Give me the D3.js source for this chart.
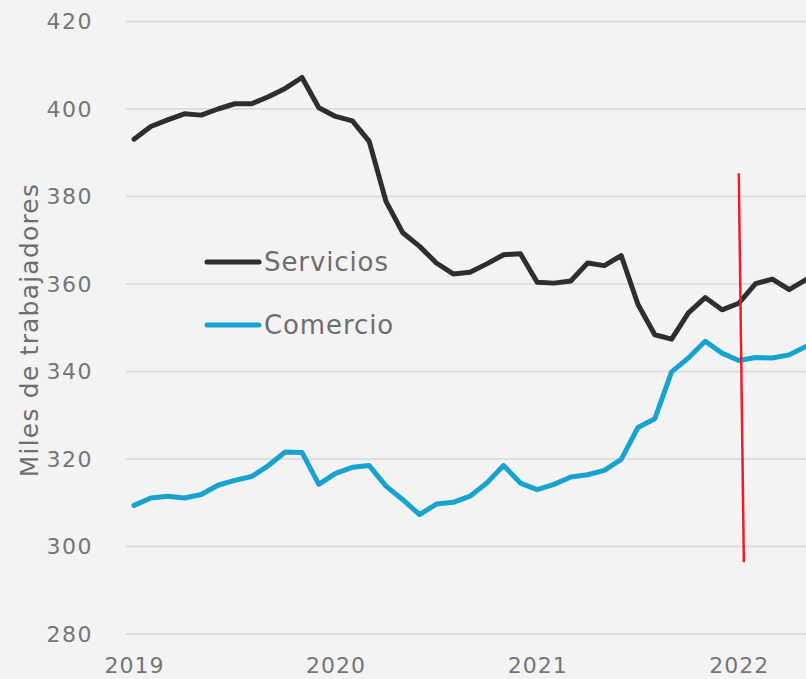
<!DOCTYPE html>
<html>
<head>
<meta charset="utf-8">
<script src="https://cdn.jsdelivr.net/npm/d3@7"></script>
<style>
  html, body { margin: 0; padding: 0; background: #f3f3f3; }
  svg { display: block; }
</style>
</head>
<body>
<div id="chart"></div>
<script>
// datos mensuales, ene 2019 - may 2022
var servicios = [393.1, 396.0, 397.5, 398.9, 398.6, 400.0, 401.2, 401.2, 402.8, 404.7,
    407.2, 400.3, 398.3, 397.3, 392.6, 378.9, 371.7, 368.6, 364.8, 362.3,
    362.7, 364.6, 366.7, 366.9, 360.4, 360.2, 360.7, 364.8, 364.2, 366.5,
    355.3, 348.4, 347.4, 353.4, 356.9, 354.1, 355.6, 360.1, 361.1, 358.7, 361.0];

var comercio = [309.4, 311.1, 311.5, 311.1, 311.9, 314.0, 315.1, 316.0, 318.5, 321.6,
    321.5, 314.2, 316.7, 318.1, 318.5, 313.8, 310.7, 307.3, 309.7, 310.1,
    311.5, 314.5, 318.5, 314.5, 313.0, 314.2, 315.9, 316.4, 317.4, 319.9,
    327.2, 329.2, 339.9, 343.1, 346.9, 344.2, 342.5, 343.2, 343.1, 343.8, 345.7];

var years = ["2019", "2020", "2021", "2022"];
var yTicks = [280, 300, 320, 340, 360, 380, 400, 420];

// linea roja (indice de mes, valor)
var redLine = [[36.0, 385.3], [36.3, 296.4]];

var width = 806,
    height = 679;

var svg = d3.select("#chart").append("svg")
    .attr("width", width)
    .attr("height", height);

svg.append("rect")
    .attr("width", width)
    .attr("height", height)
    .attr("fill", "#f3f3f3");

var x = d3.scaleLinear()
    .domain([0, 40])
    .range([134, 806]);

var y = d3.scaleLinear()
    .domain([280, 420])
    .range([634, 21.5]);

var font = "'DejaVu Sans', sans-serif";

// grid
svg.selectAll(".grid")
    .data(yTicks)
    .enter().append("line")
    .attr("class", "grid")
    .attr("x1", 126)
    .attr("x2", width)
    .attr("y1", function(d) { return y(d); })
    .attr("y2", function(d) { return y(d); })
    .attr("stroke", "#dedede")
    .attr("stroke-width", 2);

// eje y
var yAxis = svg.append("g")
    .attr("transform", "translate(93,0)")
    .call(d3.axisLeft(y).tickValues(yTicks).tickSize(0).tickPadding(0));
yAxis.select(".domain").remove();
yAxis.selectAll("text")
    .attr("fill", "#757575")
    .style("font-family", font)
    .style("font-size", "22px")
    .style("letter-spacing", "1.5px");

// eje x
var xAxis = svg.append("g")
    .attr("transform", "translate(0,657)")
    .call(d3.axisBottom(x).tickValues([0, 12, 24, 36]).tickFormat(function(d, i) { return years[i]; }).tickSize(0).tickPadding(0));
xAxis.select(".domain").remove();
xAxis.selectAll("text")
    .attr("fill", "#757575")
    .style("font-family", font)
    .style("font-size", "22px")
    .style("letter-spacing", "1px");

svg.append("text")
    .attr("transform", "translate(38,330) rotate(-90)")
    .attr("text-anchor", "middle")
    .attr("fill", "#6e6e6e")
    .style("font-family", font)
    .style("font-size", "25px")
    .style("letter-spacing", "1.2px")
    .text("Miles de trabajadores");

var line = d3.line()
    .x(function(d, i) { return x(i); })
    .y(function(d) { return y(d); });

svg.append("path")
    .datum(servicios)
    .attr("d", line)
    .attr("fill", "none")
    .attr("stroke", "#2e2e2e")
    .attr("stroke-width", 5)
    .attr("stroke-linejoin", "round")
    .attr("stroke-linecap", "round");

svg.append("path")
    .datum(comercio)
    .attr("d", line)
    .attr("fill", "none")
    .attr("stroke", "#16a3d0")
    .attr("stroke-width", 5)
    .attr("stroke-linejoin", "round")
    .attr("stroke-linecap", "round");

svg.append("path")
    .datum(redLine)
    .attr("d", d3.line().x(function(d) { return x(d[0]); }).y(function(d) { return y(d[1]); }))
    .attr("stroke", "#ee1d2a")
    .attr("stroke-width", 2.5)
    .attr("fill", "none");

// leyenda
var legend = [["Servicios", "#2e2e2e", 262], ["Comercio", "#16a3d0", 325]];
for (var i = 0; i < legend.length; i++) {
    svg.append("line")
        .attr("x1", 207).attr("x2", 259)
        .attr("y1", legend[i][2]).attr("y2", legend[i][2])
        .attr("stroke", legend[i][1])
        .attr("stroke-width", 5)
        .attr("stroke-linecap", "round");
    svg.append("text")
        .attr("x", 264)
        .attr("y", legend[i][2] + 9)
        .attr("fill", "#6e6e6e")
        .style("font-family", font)
        .style("font-size", "26px")
        .style("letter-spacing", "0.9px")
        .text(legend[i][0]);
}
</script>
</body>
</html>
